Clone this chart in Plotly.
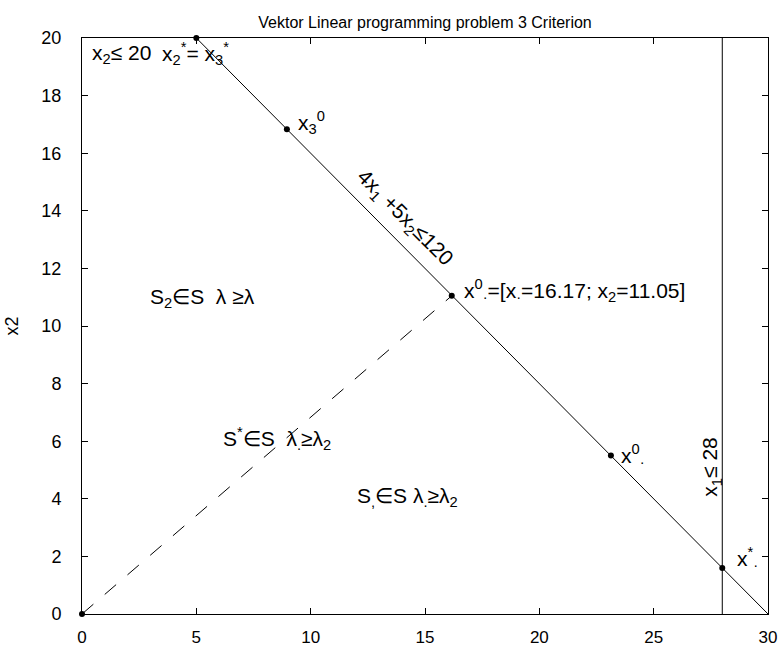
import plotly.graph_objects as go

# constraint line 4x1 + 5x2 <= 120
constraint_x = [5, 30]
constraint_y = [20, 0]
# constraint x1 <= 28
vert_x = [28, 28]
vert_y = [0, 20]
# dashed ray to compromise point
ray_x = [0, 16.17]
ray_y = [0, 11.05]
# marked points
pts_x = [0, 5, 8.96, 16.17, 23.13, 28]
pts_y = [0, 20, 16.83, 11.05, 5.5, 1.6]

x_ticks = [0, 5, 10, 15, 20, 25, 30]
y_ticks = [0, 2, 4, 6, 8, 10, 12, 14, 16, 18, 20]

FONT = "Liberation Sans, Arial, sans-serif"

fig = go.Figure()
fig.add_trace(go.Scatter(x=constraint_x, y=constraint_y, mode="lines",
                         line=dict(color="black", width=1), showlegend=False))
fig.add_trace(go.Scatter(x=vert_x, y=vert_y, mode="lines",
                         line=dict(color="black", width=1), showlegend=False))
fig.add_trace(go.Scatter(x=ray_x, y=ray_y, mode="lines",
                         line=dict(color="black", width=1, dash="longdash"), showlegend=False))
fig.add_trace(go.Scatter(x=pts_x, y=pts_y, mode="markers",
                         marker=dict(color="black", size=6), cliponaxis=False, showlegend=False))

tf = dict(family=FONT, size=21, color="black")
ann = [
    dict(x=0.35, y=19.45, text="x<sub>2</sub>≤ 20", xanchor="left"),
    dict(x=3.4, y=19.45, text="x<sub>2</sub><sup>*</sup>= x<sub>3</sub><sup>*</sup>", xanchor="left"),
    dict(x=9.36, y=17.05, text="x<sub>3</sub><sup>0</sup>", xanchor="left"),
    dict(x=14.1, y=13.75, text="4x<sub>1</sub> +5x<sub>2</sub>≤120", xanchor="center", textangle=45),
    dict(x=5.29, y=10.97, text="S<sub>2</sub>∈S  λ ≥λ", xanchor="center"),
    dict(x=16.6, y=11.25, text="x<sup>0</sup><sub>·</sub>=[x<sub>·</sub>=16.17; x<sub>2</sub>=11.05]", xanchor="left"),
    dict(x=8.53, y=6.11, text="S<sup>*</sup>∈S  λ<sub>.</sub>≥λ<sub>2</sub>", xanchor="center"),
    dict(x=14.25, y=4.06, text="S<sub>,</sub>∈S λ<sub>.</sub>≥λ<sub>2</sub>", xanchor="center"),
    dict(x=23.48, y=5.52, text="x<sup>0</sup><sub>·</sub>", xanchor="left"),
    dict(x=27.53, y=5.1, text="x<sub>1</sub>≤ 28", xanchor="center", textangle=-90),
    dict(x=28.55, y=1.94, text="x<sup>*</sup><sub>·</sub>", xanchor="left"),
]
for a in ann:
    a.update(xref="x", yref="y", showarrow=False, font=tf, yanchor="middle")
fig.update_layout(annotations=ann)

axis_common = dict(showgrid=False, zeroline=False, showline=True, linecolor="black",
                   linewidth=1, mirror="ticks", ticks="inside", ticklen=6, automargin=False,
                   tickcolor="black")
fig.update_xaxes(range=[0, 30], tickvals=x_ticks, ticklabelstandoff=8,
                 ticklabeloverflow="allow",
                 tickfont=dict(family=FONT, size=17, color="black"), **axis_common)
fig.update_yaxes(range=[0, 20], tickvals=y_ticks, ticklabelstandoff=16,
                 tickfont=dict(family=FONT, size=18, color="black"),
                 title=dict(text="x2", font=dict(family=FONT, size=18, color="black"), standoff=18),
                 **axis_common)

W, H = 778, 648
fig.update_layout(
    width=W, height=H,
    margin=dict(l=82, r=10, t=38, b=34),
    plot_bgcolor="white", paper_bgcolor="white",
    hovermode=False,
    title=dict(text="Vektor Linear programming problem 3 Criterion",
               font=dict(family=FONT, size=16, color="black"),
               x=425 / W, xanchor="center", y=1 - 22 / H, yanchor="middle"),
)

fig.write_html("out.html",
               config={"displayModeBar": False},
               post_script="document.body.style.margin='0';document.body.style.overflow='hidden';")
